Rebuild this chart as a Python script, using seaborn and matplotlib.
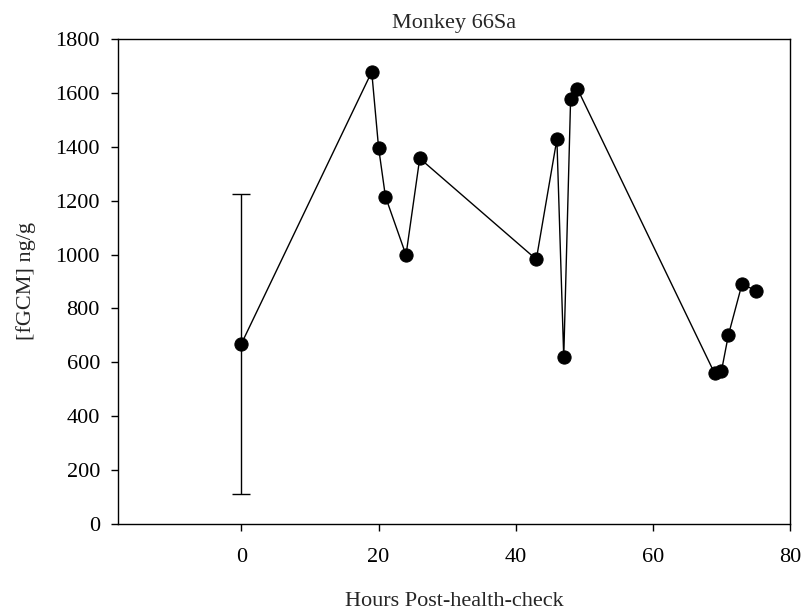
import matplotlib
matplotlib.use("Agg")
import matplotlib.pyplot as plt
import seaborn as sns
import pandas as pd

hours = [0, 19, 20, 21, 24, 26, 43, 46, 47, 48, 49, 69, 70, 71, 73, 75]
fgcm = [669, 1678, 1397, 1215, 998, 1357, 982, 1428, 619, 1576, 1615, 559, 568, 700, 891, 866]
# only the baseline sample has an error bar
err_hours = [0]
err_mean = [669]
err_size = [557]

sns.set_style("ticks")
plt.rcParams["font.family"] = ["Liberation Serif", "DejaVu Serif"]
plt.rcParams["font.size"] = 16

df = pd.DataFrame({"hours": hours, "fgcm": fgcm})

fig = plt.figure(figsize=(8.07, 6.16), dpi=100)
ax = fig.add_axes([0.1462, 0.1494, 0.979 - 0.1462, 0.9367 - 0.1494])

ax.errorbar(err_hours, err_mean, yerr=err_size, fmt="none", ecolor="black",
            elinewidth=1, capsize=6.5, capthick=1)
sns.lineplot(data=df, x="hours", y="fgcm", ax=ax, color="black", linewidth=1,
             marker="o", markersize=9.5, markeredgecolor="black", sort=False)

ax.set_xlim(-18, 80)
ax.set_ylim(0, 1800)
ax.set_xticks([0, 20, 40, 60, 80])
ax.set_yticks(range(0, 1801, 200))
ax.tick_params(direction="out", length=5, width=1, labelsize=16, colors="black",
               top=False, right=False)
ax.tick_params(axis="y", pad=8)
ax.tick_params(axis="x", pad=12)
for s in ax.spines.values():
    s.set_linewidth(1)
    s.set_color("black")

ax.set_title("Monkey 66Sa", fontsize=16, pad=8)
ax.set_xlabel("Hours Post-health-check", fontsize=16, labelpad=18)
ax.set_ylabel("[fGCM] ng/g", fontsize=16, labelpad=14)

fig.savefig("out.png", dpi=100)
